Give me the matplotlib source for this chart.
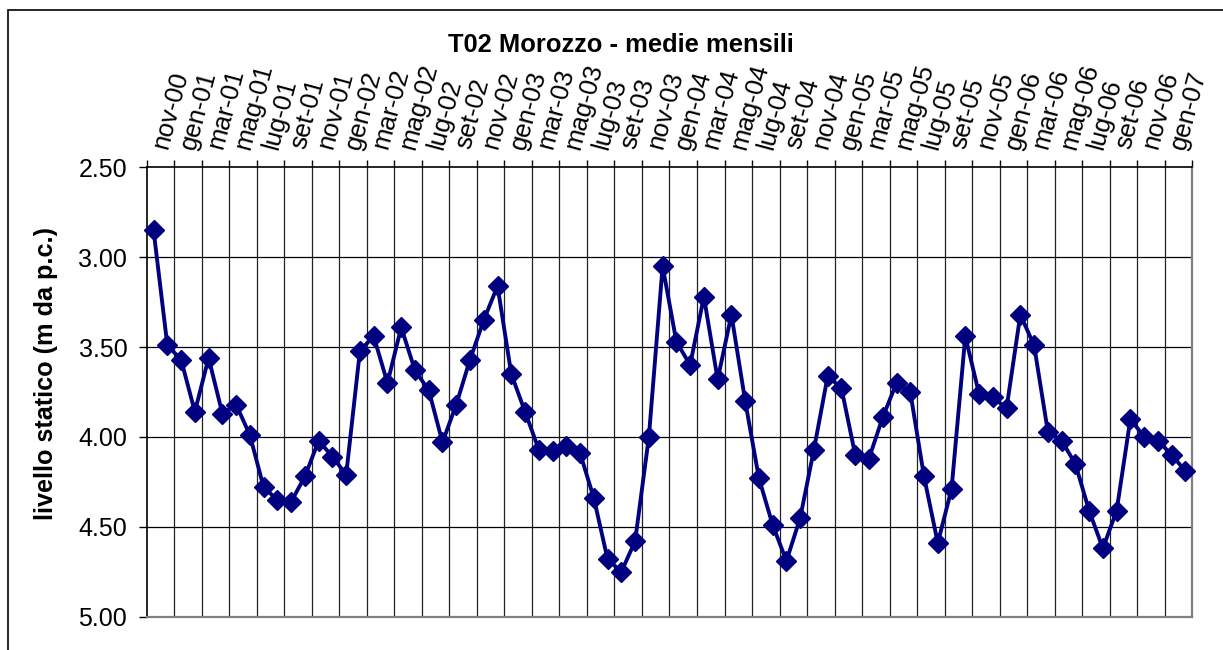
import matplotlib
matplotlib.use("Agg")
import matplotlib.pyplot as plt
from matplotlib.patches import Rectangle
import numpy as np

plt.rcParams['font.family'] = ['Liberation Sans', 'DejaVu Sans']

# livello statico mensile, nov-00 .. feb-07
livello = [2.85, 3.49, 3.57, 3.86, 3.56, 3.87, 3.82, 3.99, 4.28, 4.35,
           4.36, 4.22, 4.02, 4.11, 4.21, 3.52, 3.44, 3.70, 3.39, 3.63,
           3.74, 4.03, 3.82, 3.57, 3.35, 3.16, 3.65, 3.86, 4.07, 4.08,
           4.05, 4.09, 4.34, 4.68, 4.75, 4.58, 4.00, 3.05, 3.47, 3.60,
           3.22, 3.68, 3.32, 3.80, 4.23, 4.49, 4.69, 4.45, 4.07, 3.66,
           3.73, 4.10, 4.12, 3.89, 3.70, 3.75, 4.22, 4.59, 4.29, 3.44,
           3.76, 3.78, 3.84, 3.32, 3.49, 3.97, 4.02, 4.15, 4.41, 4.62,
           4.41, 3.90, 4.00, 4.02, 4.10, 4.19]

etichette = ["nov-00", "gen-01", "mar-01", "mag-01", "lug-01", "set-01",
             "nov-01", "gen-02", "mar-02", "mag-02", "lug-02", "set-02",
             "nov-02", "gen-03", "mar-03", "mag-03", "lug-03", "set-03",
             "nov-03", "gen-04", "mar-04", "mag-04", "lug-04", "set-04",
             "nov-04", "gen-05", "mar-05", "mag-05", "lug-05", "set-05",
             "nov-05", "gen-06", "mar-06", "mag-06", "lug-06", "set-06",
             "nov-06", "gen-07"]

y_ticks = [2.5, 3.0, 3.5, 4.0, 4.5, 5.0]

W, H = 1223, 650
fig = plt.figure(figsize=(W / 100, H / 100), dpi=100)
ax = fig.add_axes([146.7 / W, 1 - 616.7 / H, 1045.6 / W, 449.4 / H])

n = len(livello)
x = np.arange(n)
ax.plot(x, livello, color='#000080', lw=2.8, marker='D', ms=10.3,
        mfc='#000080', mec='#000080', mew=1, zorder=3, clip_on=False)

ax.set_xlim(-0.5, n - 0.5)
ax.set_ylim(5.0, 2.5)

# griglia
for yv in y_ticks[1:-1]:
    ax.axhline(yv, color='black', lw=0.9, zorder=1)
bordi = np.arange(-0.5, n, 2)
for xv in bordi[1:]:
    ax.axvline(xv, color='#222222', lw=0.9, zorder=1)

ax.set_yticks(y_ticks)
ax.set_yticklabels(["%.2f" % v for v in y_ticks])
ax.tick_params(axis='y', direction='out', length=6, width=1, pad=8,
               labelsize=18, color='black')

ax.xaxis.tick_top()
ax.set_xticks(bordi)
ax.set_xticklabels([])
ax.tick_params(axis='x', which='major', direction='out', length=5, width=1,
               color='black')
ax.set_xticks(np.arange(0, n, 2) + 0.5, minor=True)
ax.set_xticklabels(etichette, minor=True)
ax.tick_params(axis='x', which='minor', length=0, pad=13.5, labelsize=18.5)
for lab in ax.get_xticklabels(minor=True):
    lab.set_rotation(75)
    lab.set_rotation_mode('anchor')
    lab.set_ha('left')
    lab.set_va('center')

for s in ['left', 'top']:
    ax.spines[s].set_color('black')
    ax.spines[s].set_linewidth(1.2)
for s in ['right', 'bottom']:
    ax.spines[s].set_color('#808080')
    ax.spines[s].set_linewidth(1.6)

fig.text(621 / W, 1 - 45 / H, "T02 Morozzo - medie mensili", ha='center',
         va='center', fontsize=18.4, fontweight='bold')
fig.text(46 / W, 1 - 374 / H, "livello statico (m da p.c.)", ha='center',
         va='center', rotation=90, fontsize=18.2, fontweight='bold')

# cornice del grafico (tagliata a destra e in basso)
fig.add_artist(Rectangle((8 / W, -0.2), 1.2, (1 - 10 / H) + 0.2,
                         transform=fig.transFigure, fill=False,
                         edgecolor='black', lw=1.2))

fig.savefig("out.png", dpi=100)
